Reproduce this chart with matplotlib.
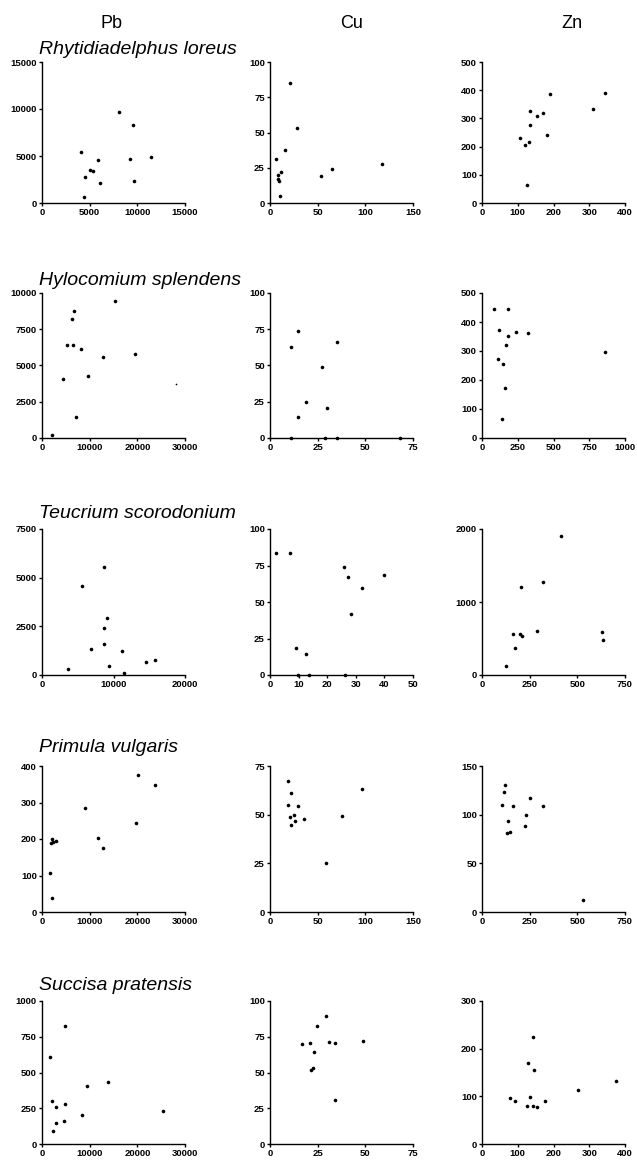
import matplotlib.pyplot as plt

plt.rcParams['font.family'] = ['Liberation Sans', 'DejaVu Sans']

metals = ['Pb', 'Cu', 'Zn']
species = ['Rhytidiadelphus loreus', 'Hylocomium splendens',
           'Teucrium scorodonium', 'Primula vulgaris', 'Succisa pratensis']

# Rhytidiadelphus loreus
rl_pb_x = [4100, 8100, 9500, 5900, 4500, 5000, 5300, 6050, 4430, 9200, 9600, 11400]
rl_pb_y = [5450, 9650, 8350, 4600, 2780, 3500, 3450, 2150, 650, 4630, 2350, 4880]
rl_cu_x = [21, 28.5, 15.5, 6, 8, 12, 8.8, 9.6, 10, 54, 65, 117]
rl_cu_y = [85, 53, 37.8, 31.3, 20.2, 21.8, 16.8, 15.8, 5, 19, 24, 27.8]
rl_zn_x = [189, 345, 311, 135, 172, 153, 135, 182, 107, 131, 119, 127]
rl_zn_y = [387, 390, 334, 325, 320, 310, 276, 240, 230, 215, 205, 64]

# Hylocomium splendens
hs_pb_x = [15300, 6700, 6350, 5150, 6400, 8200, 12700, 19500, 4400, 9550, 7200, 2050]
hs_pb_y = [9470, 8760, 8200, 6430, 6430, 6130, 5620, 5760, 4060, 4260, 1430, 180]
hs_pb_faint_x = [28100]
hs_pb_faint_y = [3730]
hs_cu_x = [10.9, 14.5, 35.4, 27.5, 18.8, 14.9, 29.8, 11.1, 29, 35.4, 68.2]
hs_cu_y = [62.9, 73.5, 66.1, 49.3, 25.1, 14.3, 20.5, 0, 0, 0, 0]
hs_zn_x = [87, 183, 121, 183, 237, 319, 169, 110, 147, 158, 138, 860]
hs_zn_y = [445, 445, 372, 353, 364, 363, 321, 274, 255, 171, 67, 295]

# Teucrium scorodonium
ts_pb_x = [8680, 5630, 9070, 8620, 8620, 6870, 11150, 3600, 9350, 14480, 15780, 11440]
ts_pb_y = [5560, 4590, 2920, 2410, 1570, 1340, 1240, 330, 450, 670, 790, 90]
ts_cu_x = [2.1, 7.1, 25.9, 27.4, 39.8, 32.2, 28.4, 9, 12.5, 9.8, 13.8, 26.3]
ts_cu_y = [83.5, 83.8, 73.7, 67, 68.6, 59.3, 41.9, 18.3, 14.6, 0, 0, 0]
ts_zn_x = [416, 202, 321, 162, 200, 210, 288, 172, 124, 630, 634]
ts_zn_y = [1909, 1210, 1269, 566, 556, 530, 598, 370, 124, 584, 475]

# Primula vulgaris
pv_pb_x = [20200, 23800, 9000, 19700, 11750, 12700, 2000, 1800, 2300, 2900, 1700, 2100]
pv_pb_y = [374, 349, 285, 245, 203, 174, 199, 189, 192, 195, 108, 37]
pv_cu_x = [18.8, 21.6, 18.8, 29.6, 24.9, 21.1, 35.5, 26, 22.2, 96.3, 75.8, 58.3]
pv_cu_y = [67.1, 61.1, 55.1, 54.5, 49.8, 48.6, 47.6, 46.7, 44.7, 63, 49.1, 25.3]
pv_zn_x = [123, 114, 104, 163, 250, 321, 233, 138, 225, 130, 148, 529]
pv_zn_y = [130.5, 123, 110, 109, 117, 109, 100, 93, 88, 81.5, 82, 12]

# Succisa pratensis
sp_pb_x = [4900, 1700, 2000, 2950, 4900, 9450, 13800, 8350, 2950, 4650, 2300, 25400]
sp_pb_y = [826, 607, 302, 258, 281, 407, 437, 202, 149, 158, 93, 233]
sp_cu_x = [29.3, 24.6, 17, 21.2, 30.7, 33.9, 49, 23.2, 21.7, 22.8, 33.9]
sp_cu_y = [89.3, 82.7, 70, 70.5, 71.6, 70.9, 72.3, 64.3, 51.4, 53.3, 31]
sp_zn_x = [144, 129, 146, 376, 268, 79, 93, 133, 125, 144, 153, 177]
sp_zn_y = [225, 170, 155, 133, 113, 96, 90, 98, 80, 80, 77, 91]

# tick values (x ticks, y ticks) for each panel
rl_ticks = [([0, 5000, 10000, 15000], [0, 5000, 10000, 15000]),
            ([0, 50, 100, 150], [0, 25, 50, 75, 100]),
            ([0, 100, 200, 300, 400], [0, 100, 200, 300, 400, 500])]
hs_ticks = [([0, 10000, 20000, 30000], [0, 2500, 5000, 7500, 10000]),
            ([0, 25, 50, 75], [0, 25, 50, 75, 100]),
            ([0, 250, 500, 750, 1000], [0, 100, 200, 300, 400, 500])]
ts_ticks = [([0, 10000, 20000], [0, 2500, 5000, 7500]),
            ([0, 10, 20, 30, 40, 50], [0, 25, 50, 75, 100]),
            ([0, 250, 500, 750], [0, 1000, 2000])]
pv_ticks = [([0, 10000, 20000, 30000], [0, 100, 200, 300, 400]),
            ([0, 50, 100, 150], [0, 25, 50, 75]),
            ([0, 250, 500, 750], [0, 50, 100, 150])]
sp_ticks = [([0, 10000, 20000, 30000], [0, 250, 500, 750, 1000]),
            ([0, 25, 50, 75], [0, 25, 50, 75, 100]),
            ([0, 100, 200, 300, 400], [0, 100, 200, 300])]

data = [
    [(rl_pb_x, rl_pb_y), (rl_cu_x, rl_cu_y), (rl_zn_x, rl_zn_y)],
    [(hs_pb_x, hs_pb_y), (hs_cu_x, hs_cu_y), (hs_zn_x, hs_zn_y)],
    [(ts_pb_x, ts_pb_y), (ts_cu_x, ts_cu_y), (ts_zn_x, ts_zn_y)],
    [(pv_pb_x, pv_pb_y), (pv_cu_x, pv_cu_y), (pv_zn_x, pv_zn_y)],
    [(sp_pb_x, sp_pb_y), (sp_cu_x, sp_cu_y), (sp_zn_x, sp_zn_y)],
]
ticks = [rl_ticks, hs_ticks, ts_ticks, pv_ticks, sp_ticks]

# layout in pixels of the 637x1161 figure
W, H = 637, 1161
col_left = [42, 270, 482]
col_w = 143
row_top = [62, 293, 529, 766, 1001]
row_bot = [203, 438, 675, 912, 1144]
title_base = [54, 285, 518, 752, 990]
metal_x = [111, 352, 572]

fig = plt.figure(figsize=(W / 100, H / 100), dpi=100)

for j, m in enumerate(metals):
    fig.text(metal_x[j] / W, 1 - 23 / H, m, fontsize=13, ha='center', va='center')

for i in range(5):
    fig.text(39 / W, 1 - title_base[i] / H, species[i], fontsize=14,
             style='italic', ha='left', va='baseline')
    for j in range(3):
        ax = fig.add_axes([col_left[j] / W, 1 - row_bot[i] / H,
                           col_w / W, (row_bot[i] - row_top[i]) / H])
        xs, ys = data[i][j]
        ax.plot(xs, ys, 'o', color='black', ms=2.6, mew=0, clip_on=False)
        if i == 1 and j == 0:
            ax.plot(hs_pb_faint_x, hs_pb_faint_y, 'o', color='black', ms=1.2, mew=0)
        xt, yt = ticks[i][j]
        ax.set_xticks(xt)
        ax.set_yticks(yt)
        ax.set_xlim(xt[0], xt[-1])
        ax.set_ylim(yt[0], yt[-1])
        for s in ['top', 'right']:
            ax.spines[s].set_visible(False)
        for s in ['left', 'bottom']:
            ax.spines[s].set_linewidth(1.0)
        ax.tick_params(direction='out', length=2.5, width=1.0, pad=1.2,
                       labelsize=6.8)
        for lab in ax.get_xticklabels() + ax.get_yticklabels():
            lab.set_fontweight('bold')

plt.savefig('out.png', dpi=100)
